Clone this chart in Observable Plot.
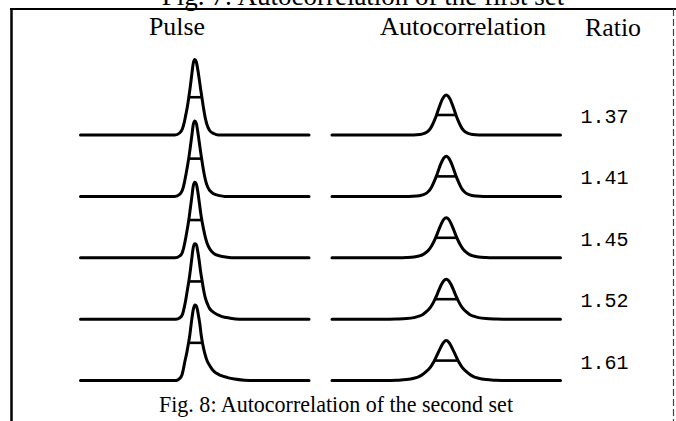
<!DOCTYPE html>
<html><head><meta charset="utf-8">
<script src="https://cdn.jsdelivr.net/npm/d3@7"></script>
<script src="https://cdn.jsdelivr.net/npm/@observablehq/plot@0.6"></script>
<style>
html,body{margin:0;padding:0;background:#fff;}
#fig{position:relative;width:676px;height:421px;overflow:hidden;background:#fff;}
#fig > svg{position:absolute;left:0;top:0;}
</style></head><body>
<div id="fig"></div>
<script>
// ---- data ----
const ratios = ["1.37", "1.41", "1.45", "1.52", "1.61"];
const panels = ["Pulse", "Autocorrelation"];
const headers = ["Pulse", "Autocorrelation", "Ratio"];
const captionPrev = "Fig. 7: Autocorrelation of the first set";
const caption = "Fig. 8: Autocorrelation of the second set";
const tMax = 230; // half window, fs

// pulse intensity (peak = 1) vs time (fs), one row per ratio
const pulseT = [
  [-40,-30,-25,-21,-18,-15,-12,-9,-6,-3,0,3,6,9,12,15,18,21,25,30,38,48],
  [-40,-30,-25,-21,-18,-15,-12,-9,-6,-3,0,3,6,9,12,15,18,21,25,30,38,50,60],
  [-40,-30,-25,-21,-18,-15,-12,-9,-6,-3,0,3,6,9,12,15,18,21,25,30,38,50,65,80],
  [-38,-30,-25,-21,-18,-15,-12,-9,-6,-3,0,3,6,9,12,15,18,21,25,30,36,44,55,70,90],
  [-40,-34,-30,-26,-23,-20,-16,-13,-10,-7,-3,0,3,5,8,10,13,15.5,18,21,25,30,36,43,52,66,80,100,120]
];
const pulseV = [
  [0,0.03,0.08,0.17,0.27,0.37,0.5,0.64,0.8,0.95,1,0.97,0.87,0.74,0.6,0.47,0.34,0.23,0.13,0.06,0.02,0],
  [0,0.03,0.08,0.18,0.28,0.39,0.51,0.65,0.8,0.95,1,0.97,0.86,0.72,0.58,0.45,0.33,0.23,0.14,0.08,0.035,0.01,0],
  [0,0.025,0.07,0.17,0.27,0.38,0.5,0.65,0.8,0.95,1,0.98,0.88,0.74,0.59,0.47,0.37,0.28,0.19,0.12,0.06,0.025,0.008,0],
  [0,0.02,0.06,0.16,0.26,0.38,0.5,0.64,0.8,0.95,1,0.99,0.9,0.77,0.62,0.5,0.38,0.29,0.21,0.14,0.1,0.065,0.035,0.015,0],
  [0,0.01,0.03,0.07,0.15,0.25,0.37,0.48,0.6,0.76,0.94,1,0.99,0.95,0.84,0.76,0.6,0.5,0.42,0.34,0.26,0.2,0.14,0.1,0.07,0.04,0.02,0.005,0]
];
// autocorrelation (peak = 1, symmetric) vs delay (fs), positive side
const acT = [
  [0,4,8,12,16,20,24,28,32,37,43,50,60,70],
  [0,4,8,12,16,20,24,28,32,37,43,50,60,75],
  [0,5,10,15,20,25,30,35,40,47,55,65,80,95],
  [0,5,10,15,20,25,30,35,40,47,55,65,80,100,115],
  [0,5,10,15,20,25,30,35,40,47,55,65,80,100,120]
];
const acV = [
  [1,0.97,0.89,0.77,0.63,0.48,0.36,0.25,0.16,0.09,0.045,0.02,0.005,0],
  [1,0.97,0.89,0.78,0.64,0.5,0.38,0.27,0.18,0.11,0.06,0.03,0.01,0],
  [1,0.96,0.85,0.7,0.54,0.4,0.29,0.2,0.14,0.08,0.045,0.02,0.005,0],
  [1,0.96,0.86,0.72,0.57,0.44,0.33,0.25,0.19,0.12,0.075,0.04,0.015,0.004,0],
  [1,0.96,0.86,0.73,0.6,0.47,0.37,0.29,0.23,0.16,0.1,0.06,0.025,0.008,0]
];
const acPeak = 0.53; // autocorrelation height relative to the pulse height

// ---- build tables ----
const curves = [], bars = [];
function halfBar(pts) {
  const peak = d3.max(pts, d => d.v), h = peak / 2;
  const i0 = pts.findIndex(d => d.v === peak);
  let i = i0; while (i > 0 && pts[i - 1].v >= h) i--;
  const a = pts[i - 1], b = pts[i];
  const x1 = a.t + (h - a.v) / (b.v - a.v) * (b.t - a.t);
  let j = i0; while (j < pts.length - 1 && pts[j + 1].v >= h) j++;
  const c = pts[j], e = pts[j + 1];
  const x2 = c.t + (c.v - h) / (c.v - e.v) * (e.t - c.t);
  return {x1, x2, y: h};
}
ratios.forEach((r, i) => {
  const p = [{t: -tMax, v: 0}, ...pulseT[i].map((t, j) => ({t, v: pulseV[i][j]})), {t: tMax, v: 0}];
  p.forEach(d => curves.push({...d, panel: "Pulse", ratio: r}));
  bars.push({...halfBar(p), panel: "Pulse", ratio: r});
  const side = acT[i].map((t, j) => ({t, v: acV[i][j] * acPeak}));
  const a = [{t: -tMax, v: 0}, ...side.slice(1).reverse().map(d => ({t: -d.t, v: d.v})), ...side, {t: tMax, v: 0}];
  a.forEach(d => curves.push({...d, panel: "Autocorrelation", ratio: r}));
  bars.push({...halfBar(a), panel: "Autocorrelation", ratio: r});
});

// ---- chart ----
const W = 676, H = 421;
const chart = Plot.plot({
  width: W, height: H,
  marginLeft: 80, marginRight: 116, marginTop: 73.1, marginBottom: 40.9,
  x: {domain: [-tMax, tMax], axis: null},
  y: {domain: [0, 0.813], axis: null},
  fx: {domain: panels, paddingInner: 0.0913, paddingOuter: 0, axis: null, round: false},
  fy: {domain: ratios, padding: 0, axis: null, round: false},
  style: {background: "transparent", overflow: "visible"},
  marks: [
    Plot.line(curves, {x: "t", y: "v", fx: "panel", fy: "ratio", stroke: "black", strokeWidth: 3, curve: "monotone-x", strokeLinejoin: "round"}),
    Plot.ruleY(bars, {y: "y", x1: "x1", x2: "x2", fx: "panel", fy: "ratio", stroke: "black", strokeWidth: 2.6}),
    Plot.text(ratios, {fx: () => "Autocorrelation", fy: d => d, text: d => d, frameAnchor: "bottom-right", textAnchor: "start", dx: 20, dy: -12, fontFamily: "'Liberation Mono', 'DejaVu Sans Mono', monospace", fontSize: 20, fill: "black"})
  ]
});
const fig = document.getElementById("fig");
fig.appendChild(chart);

// ---- frame, headers and captions ----
const ov = d3.select(fig).append("svg").attr("width", W).attr("height", H)
  .style("font-family", "'Liberation Serif', 'Times New Roman', serif");
ov.append("text").attr("x", 363).attr("y", 5).attr("text-anchor", "middle").attr("font-size", 27).text(captionPrev);
ov.append("line").attr("x1", 10).attr("x2", W).attr("y1", 9).attr("y2", 9).attr("stroke", "black").attr("stroke-width", 2.2);
ov.append("line").attr("x1", 11.5).attr("x2", 11.5).attr("y1", 8).attr("y2", H).attr("stroke", "black").attr("stroke-width", 2.5);
ov.append("line").attr("x1", 673.5).attr("x2", 673.5).attr("y1", 9).attr("y2", H).attr("stroke", "#444").attr("stroke-width", 1.2).attr("stroke-dasharray", "7,3");
const hx = [149, 380, 585], hy = [34.5, 35, 35.5], hw = [56, 166, 56];
headers.forEach((h, i) => ov.append("text").attr("x", hx[i]).attr("y", hy[i]).attr("font-size", 25)
  .attr("textLength", hw[i]).attr("lengthAdjust", "spacingAndGlyphs").text(h));
ov.append("text").attr("x", 159).attr("y", 412).attr("font-size", 23.5)
  .attr("textLength", 354).attr("lengthAdjust", "spacingAndGlyphs").text(caption);
</script>
</body></html>
